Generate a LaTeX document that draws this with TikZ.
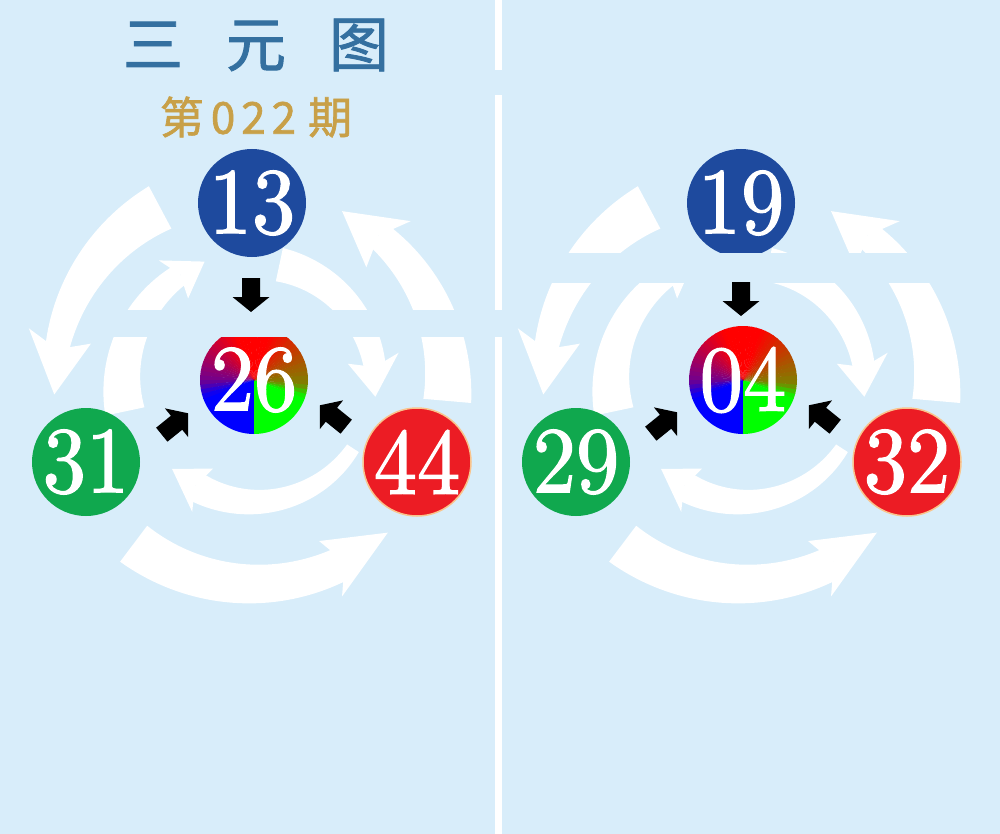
\documentclass[tikz,border=0pt]{standalone}
\usepackage{fontspec}
\newfontfamily\cjk[FakeBold=1.5]{Noto Sans CJK SC}
\newfontfamily\numfont[Extension=.otf, FakeBold=1.5]{lmroman10-regular}
\definecolor{bg}{RGB}{216,237,250}
\definecolor{cblue}{RGB}{30,74,158}
\definecolor{cgreen}{RGB}{16,168,78}
\definecolor{cred}{RGB}{236,28,36}
\definecolor{credge}{RGB}{250,196,140}
\definecolor{titleblue}{RGB}{52,112,160}
\definecolor{gold}{RGB}{200,160,72}
\tikzset{
  ball/.style={circle, minimum size=108pt, inner sep=0pt, text=white,
    font=\numfont\fontsize{94}{94}\selectfont},
  cnum/.style={circle, minimum size=108pt, inner sep=0pt, text=white,
    font=\numfont\fontsize{94}{94}\selectfont},
  warrow/.style={fill=white},
  divider/.style={draw=white, line width=7pt}
}
% white curved arrow: cx cy r a1(tail) a2(head base) w1 w2 headhalfwidth headspan
\newcommand\warr[9]{%
  \fill[warrow] plot[domain=#4:#5, samples=40, variable=\t]
    ({#1+(#3+0.5*(#6+(#7-(#6))*(\t-(#4))/((#5)-(#4))))*cos(\t)},
     {#2+(#3+0.5*(#6+(#7-(#6))*(\t-(#4))/((#5)-(#4))))*sin(\t)})
    -- plot[domain=#5:#4, samples=40, variable=\t]
    ({#1+(#3-0.5*(#6+(#7-(#6))*(\t-(#4))/((#5)-(#4))))*cos(\t)},
     {#2+(#3-0.5*(#6+(#7-(#6))*(\t-(#4))/((#5)-(#4))))*sin(\t)})
    -- cycle;
  \fill[warrow] ({#1+(#3+#8)*cos(#5-0.3*(#9))},{#2+(#3+#8)*sin(#5-0.3*(#9))})
    -- ({#1+#3*cos(#5+(#9))},{#2+#3*sin(#5+(#9))})
    -- ({#1+(#3-#8)*cos(#5-0.3*(#9))},{#2+(#3-#8)*sin(#5-0.3*(#9))})
    -- ({#1+#3*cos(#5)},{#2+#3*sin(#5)}) -- cycle;
}
\newcommand\arrowset[2]{%
  \warr{#1}{#2}{200}{242}{190}{48}{24}{32}{-13}
  \warr{#1}{#2}{200}{127}{63}{45}{34}{30}{-15}
  \warr{#1}{#2}{194}{5}{-50}{48}{28}{32}{-13}
  \warr{#1}{#2}{132}{168}{236}{40}{22}{24}{12}
  \warr{#1}{#2}{122}{-78}{-8}{34}{22}{26}{14}
  \warr{#1}{#2}{118}{33}{120}{14}{30}{24}{14}
}
% multicoloured centre ball
\newcommand\cball[2]{%
  \fill[blue] (#1,#2) -- ++(90:54) arc[start angle=90, end angle=160.5, radius=54] -- cycle;
  \fill[green] (#1,#2) -- ++(19.5:54) arc[start angle=19.5, end angle=90, radius=54] -- cycle;
  \foreach \f in {-20,-15,...,195}{
    \pgfmathsetmacro\m{\f+2.5}
    \ifdim\m pt<-5pt
      \pgfmathtruncatemacro\p{(\m+20)/15*50}
      \colorlet{wc}{red!\p!green}
    \else\ifdim\m pt<70pt
      \pgfmathtruncatemacro\p{50+(\m+5)/75*50}
      \colorlet{wc}{red!\p!green}
    \else\ifdim\m pt<110pt
      \colorlet{wc}{red}
    \else\ifdim\m pt<180pt
      \pgfmathtruncatemacro\p{(\m-110)/70*55}
      \colorlet{wc}{blue!\p!red}
    \else
      \pgfmathtruncatemacro\p{55+(\m-180)/20*45}
      \colorlet{wc}{blue!\p!red}
    \fi\fi\fi\fi
    \fill[wc] (#1,#2) -- ++({-\f}:54) arc[start angle={-\f}, end angle={-\f-5.6}, radius=54] -- cycle;
  }
}
\newcommand\blk[3]{%
  \fill[black, shift={(#1,#2)}, rotate=#3] (-17,-9) -- (2,-9) -- (2,-18.5) -- (17,0)
    -- (2,18.5) -- (2,9) -- (-17,9) -- cycle;
}
\newcommand\bn[1]{\scalebox{0.92}[1]{#1}}
\begin{document}
\begin{tikzpicture}[x=1pt,y=-1pt]
\useasboundingbox (0,0) rectangle (1000,834);
\fill[bg] (0,0) rectangle (1000,834);
% divider
\coordinate (d0) at (498,0); \coordinate (d1) at (498,70);
\coordinate (d2) at (498,95); \coordinate (d3) at (498,310);
\coordinate (d4) at (498,337); \coordinate (d5) at (498,834);
\draw[divider] (d0) -- (d1);
\draw[divider] (d2) -- (d3);
\draw[divider] (d4) -- (d5);
% titles
\node[font=\cjk\fontsize{60}{60}\selectfont, text=titleblue] (title) at (256,45) {三\hspace{43pt}元\hspace{43pt}图};
\node[font=\cjk\fontsize{44}{44}\selectfont, text=gold] (issue) at (256,117) {第\hspace{7pt}0\hspace{6pt}2\hspace{6pt}2\hspace{12pt}期};
% white circulating arrows
\arrowset{254}{384}
\arrowset{743}{384}
% left panel balls
\node[ball, fill=cblue] (b13) at (252,203) {\bn{13}};
\node[ball, fill=cgreen] (b31) at (86,462) {\bn{31}};
\node[ball, fill=cred, draw=credge, line width=1.5pt] (b44) at (417,462) {\bn{44}};
\cball{254}{380}
\node[cnum] (b26) at (254,380) {\bn{26}};
% right panel balls
\node[ball, fill=cblue] (b19) at (741,203) {\bn{19}};
\node[ball, fill=cgreen] (b29) at (576,462) {\bn{29}};
\node[ball, fill=cred, draw=credge, line width=1.5pt] (b32) at (907,462) {\bn{32}};
\cball{743}{380}
\node[cnum] (b04) at (743,380) {\bn{04}};
% horizontal gaps
\fill[bg] (100,310) rectangle (490,337);
\fill[bg] (505,253) rectangle (995,283);
% black arrows
\blk{251}{295}{-90}
\blk{175}{424}{39}
\blk{333}{416}{141}
\blk{741}{299}{-90}
\blk{664}{423}{39}
\blk{822}{416}{141}
\end{tikzpicture}
\end{document}
